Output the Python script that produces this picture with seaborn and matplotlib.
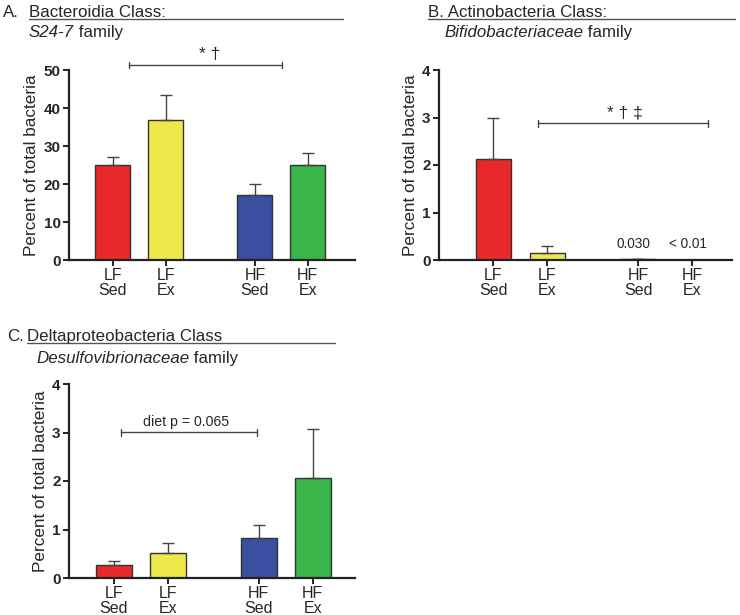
import matplotlib
matplotlib.use("Agg")
import matplotlib.pyplot as plt
from matplotlib.lines import Line2D
import numpy as np
import seaborn as sns

# dados
grupos = ["LF\nSed", "LF\nEx", "HF\nSed", "HF\nEx"]
posicoes = [0, 1, 2.68, 3.68]
cores = ["#E8292B", "#EEE84A", "#3A4FA0", "#39B54A"]

s24_media = [25.1, 36.9, 17.0, 24.9]
s24_erro = [2.1, 6.6, 3.0, 3.3]

bifido_media = [2.12, 0.15, 0.030, 0.005]
bifido_erro = [0.88, 0.15, 0.0, 0.0]

desulfo_media = [0.27, 0.52, 0.82, 2.07]
desulfo_erro = [0.08, 0.20, 0.28, 1.01]

sns.set_theme(style="ticks")
plt.rcParams["font.family"] = ["Liberation Sans", "DejaVu Sans"]

W, H = 740, 615
fig = plt.figure(figsize=(7.4, 6.15), dpi=100)

def px(x, y):
    return x / W, 1 - y / H

def painel(rect, medias, erros, ymax, xlim, yticks):
    ax = fig.add_axes(rect)
    sns.barplot(x=posicoes, y=medias, hue=grupos, palette=cores, native_scale=True,
                width=0.66, edgecolor="#333333", linewidth=1, errorbar=None,
                saturation=1, legend=False, ax=ax)
    baixo = np.zeros(len(medias))
    ax.errorbar(posicoes, medias, yerr=[baixo, erros], fmt="none", ecolor="#444444",
                elinewidth=1, capsize=4, capthick=1)
    ax.set_xlim(*xlim)
    ax.set_ylim(0, ymax)
    ax.set_xticks(posicoes)
    ax.set_xticklabels(grupos, fontsize=11.5, linespacing=0.95)
    ax.set_yticks(yticks)
    ax.set_yticklabels([str(v) for v in yticks], fontsize=11, fontweight="bold")
    ax.set_ylabel("Percent of total bacteria", fontsize=12.3, labelpad=3)
    for lado in ["top", "right"]:
        ax.spines[lado].set_visible(False)
    for lado in ["left", "bottom"]:
        ax.spines[lado].set_linewidth(1.6)
        ax.spines[lado].set_color("#222222")
    ax.tick_params(axis="both", width=1.4, length=4, color="#222222", pad=2)
    return ax

def colchete(ax, x0, x1, y, texto, ty, tx, tam=12.5):
    ax.plot([x0, x1], [y, y], color="#444444", lw=1, clip_on=False)
    h = (ax.get_ylim()[1]) * 0.018
    for x in (x0, x1):
        ax.plot([x, x], [y - h, y + h], color="#444444", lw=1, clip_on=False)
    ax.text(tx, ty, texto, ha="center", va="center", fontsize=tam, clip_on=False)

def titulo(letra, lx, nome, nx, y, linha_fim, fam, fx, fy):
    r = fig.canvas.get_renderer()
    if letra:
        fig.text(*px(lx, y), letra, fontsize=12.2, va="baseline")
    fig.text(*px(nx, y), nome, fontsize=12.2, va="baseline")
    fig.add_artist(Line2D([nx / W, linha_fim / W], [1 - (y + 1.5) / H] * 2,
                          color="#555555", lw=1))
    t = fig.text(*px(fx, fy), fam, fontsize=12.2, style="italic", va="baseline")
    bb = t.get_window_extent(renderer=r)
    fig.text(bb.x1 / W, 1 - fy / H, " family", fontsize=12.2, va="baseline")

# A
axA = painel([69 / W, 1 - 260 / H, 286 / W, 190 / H], s24_media, s24_erro, 50,
             (-0.83, 4.57), [0, 10, 20, 30, 40, 50])
colchete(axA, 0.3, 3.2, 51.3, "* †", 54.2, 1.83)

# B
axB = painel([439 / W, 1 - 260 / H, 293 / W, 190 / H], bifido_media, bifido_erro, 4,
             (-1.01, 4.42), [0, 1, 2, 3, 4])
colchete(axB, 0.82, 3.97, 2.88, "* † ‡", 3.09, 2.44)
axB.text(posicoes[2] - 0.08, 0.34, "0.030", ha="center", va="center", fontsize=9.8)
axB.text(posicoes[3] - 0.08, 0.34, "< 0.01", ha="center", va="center", fontsize=9.8)

# C
axC = painel([69 / W, 1 - 578 / H, 286 / W, 194 / H], desulfo_media, desulfo_erro, 4,
             (-0.83, 4.46), [0, 1, 2, 3, 4])
colchete(axC, 0.13, 2.65, 3.01, "diet p = 0.065", 3.22, 1.33, tam=10.2)

titulo("A.", 3, "Bacteroidia Class:", 29, 17, 343, "S24-7", 29, 37)
titulo("", 0, "B. Actinobacteria Class:", 428, 17, 735, "Bifidobacteriaceae", 444, 37)
titulo("C.", 7, "Deltaproteobacteria Class", 27, 341, 335, "Desulfovibrionaceae", 36, 363)

fig.savefig("out.png", dpi=100)
